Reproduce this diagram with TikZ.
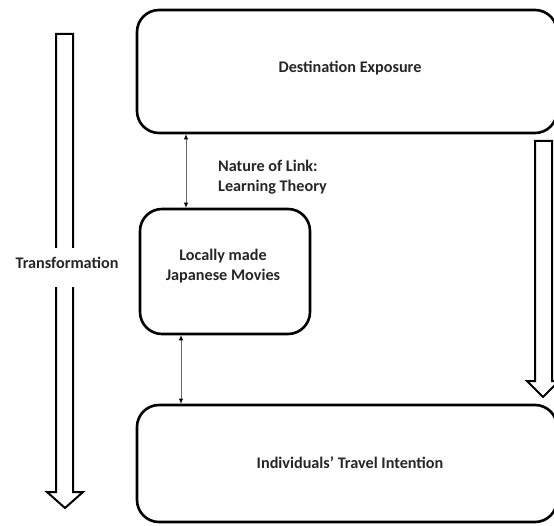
\documentclass[tikz,border=0pt]{standalone}
\usepackage{fontspec}
\setmainfont{Carlito}
\usetikzlibrary{arrows.meta}
\begin{document}
\begin{tikzpicture}[x=1pt,y=-1pt,
  box/.style={draw=black,line width=2.6pt,rounded corners=22pt,fill=white,inner sep=0pt},
  lbl/.style={font=\fontsize{16.2}{20}\selectfont\bfseries,text=black!85,align=center,inner sep=0pt},
  conn/.style={draw=black!60,line width=0.8pt,{Latex[length=5pt,width=4.5pt,color=black]}-{Latex[length=5pt,width=4.5pt,color=black]}},
  blockarrow/.style={draw=black,line width=2pt,fill=white,line join=miter}]
\useasboundingbox (0,0) rectangle (554,526);
\begin{scope}
\clip (0,0) rectangle (554,526);
% boxes
\node[box,minimum width=420pt,minimum height=123pt] (top) at (347,71.5) {};
\node[box,minimum width=170pt,minimum height=125pt] (mid) at (225,271.5) {};
\node[box,minimum width=420pt,minimum height=117pt] (bot) at (347,463.5) {};
% block arrows
\draw[blockarrow] (56,34) -- (73,34) -- (73,492) -- (83,492) -- (65,508) -- (47,492) -- (56,492) -- cycle;
\draw[blockarrow] (535,141) -- (552,141) -- (552,381) -- (559,381) -- (543,397) -- (527,381) -- (535,381) -- cycle;
\fill[white] (50,248) rectangle (80,287);
\end{scope}
% texts
\node[lbl] (t1) at (350,68) {Destination Exposure};
\node[lbl,align=left,anchor=west] (t2) at (218,177) {Nature of Link:\\Learning Theory};
\node[lbl] (t3) at (223,266) {Locally made\\Japanese Movies};
\node[lbl] (t4) at (67,263) {Transformation};
\node[lbl] (t5) at (350,463) {Individuals’ Travel Intention};
% connectors
\draw[conn] (186,0 |- top.south) -- (186,0 |- mid.north);
\draw[conn] (181,0 |- mid.south) -- (181,0 |- bot.north);
\end{tikzpicture}
\end{document}
